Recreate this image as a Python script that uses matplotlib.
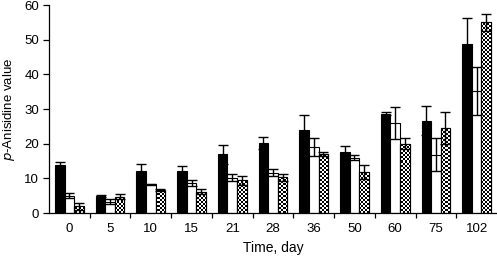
import numpy as np
import matplotlib
matplotlib.use("Agg")
import matplotlib.pyplot as plt
from matplotlib.ticker import FixedLocator

plt.rcParams['font.family'] = ['Liberation Sans', 'DejaVu Sans']

days = ['0', '5', '10', '15', '21', '28', '36', '50', '60', '75', '102']
black_vals = [13.9, 4.8, 12.2, 12.1, 16.9, 20.2, 23.9, 17.5, 28.6, 26.6, 48.8]
black_err = [0.8, 0.3, 2.0, 1.4, 2.7, 1.7, 4.3, 1.9, 0.4, 4.2, 7.5]
white_vals = [5.0, 3.3, 8.3, 8.7, 10.2, 11.6, 19.0, 16.0, 25.9, 16.8, 35.2]
white_err = [0.8, 0.8, 0.2, 0.9, 1.0, 1.0, 2.7, 0.8, 4.6, 4.8, 6.8]
check_vals = [2.0, 4.7, 6.6, 6.2, 9.5, 10.3, 17.0, 11.8, 20.0, 24.4, 55.0]
check_err = [1.0, 0.8, 0.2, 0.8, 1.3, 1.0, 0.7, 2.0, 1.6, 4.6, 2.4]

fig = plt.figure(figsize=(4.97, 2.58), dpi=100)
ax = fig.add_axes([49 / 497, 45 / 258, 448 / 497, 208 / 258])

x = np.arange(len(days))
w = 0.235
ekw = dict(fmt='none', ecolor='black', elinewidth=1.0, capsize=3.5, capthick=1.0)

ax.bar(x - w, black_vals, w, color='black', edgecolor='black', linewidth=0.8, zorder=2)
ax.errorbar(x - w, black_vals, yerr=black_err, zorder=3, **ekw)
ax.bar(x, white_vals, w, color='white', edgecolor='black', linewidth=0.8, zorder=2)
ax.errorbar(x, white_vals, yerr=white_err, zorder=3, **ekw)
cbars = ax.bar(x + w, check_vals, w, color='white', edgecolor='black', linewidth=0.8, zorder=2)

# checkerboard fill clipped to each bar
xlim = (-0.5, len(days) - 0.5)
ylim = (0, 60)
ny, nx = 104, 224
checker = (np.indices((ny, nx)).sum(axis=0) % 2).astype(float)
for b in cbars:
    im = ax.imshow(checker, cmap='gray', extent=(xlim[0], xlim[1], ylim[0], ylim[1]),
                   aspect='auto', interpolation='nearest', zorder=2.5, vmin=0, vmax=1)
    im.set_clip_path(b)
for b in cbars:
    ax.add_patch(plt.Rectangle(b.get_xy(), b.get_width(), b.get_height(), fill=False,
                               edgecolor='black', linewidth=0.8, zorder=2.6))
ax.errorbar(x + w, check_vals, yerr=check_err, zorder=3, **ekw)

ax.set_xlim(*xlim)
ax.set_ylim(*ylim)
ax.set_yticks(range(0, 61, 10))
ax.set_xticks(x)
ax.set_xticklabels(days)
ax.xaxis.set_minor_locator(FixedLocator(np.arange(0.5, len(days) - 0.5, 1)))
ax.tick_params(axis='x', which='major', length=0, pad=7.5, labelsize=9.5)
ax.tick_params(axis='x', which='minor', length=3.5, width=0.9, direction='out')
ax.tick_params(axis='y', length=4.5, width=0.9, labelsize=9.5, pad=2.5)

for s in ['top', 'right']:
    ax.spines[s].set_visible(False)
ax.spines['left'].set_linewidth(0.9)
ax.spines['bottom'].set_linewidth(0.9)

ax.set_xlabel('Time, day', fontsize=10, labelpad=4)
ax.set_ylabel('$\\it{p}$-Anisidine value', fontsize=9.5, labelpad=5)

fig.savefig('out.png', dpi=100)
